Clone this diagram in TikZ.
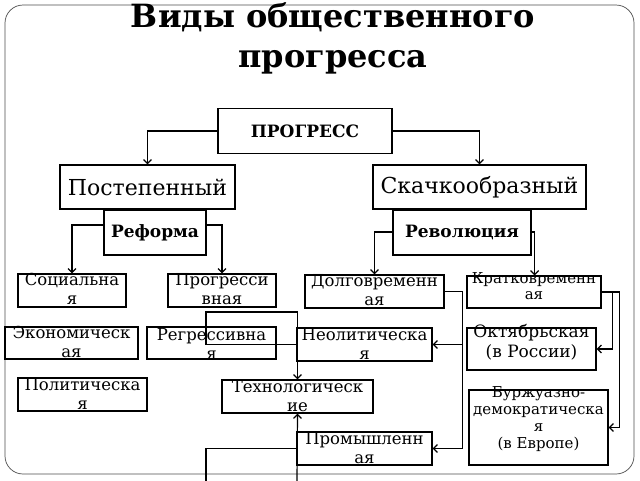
\documentclass[tikz,border=0pt]{standalone}
\usepackage{fontspec}
\setmainfont{DejaVu Serif}
\usetikzlibrary{arrows.meta}

\begin{document}
\begin{tikzpicture}[x=1pt, y=-1pt,
        % styles
        box/.style = {
                rectangle, draw=black, line width=1.2pt, inner sep=0pt
            },
        big/.style = {font=\fontsize{22}{26}\selectfont},
        head/.style = {font=\bfseries\fontsize{17}{20}\selectfont},
        lbl/.style = {
                anchor=north, align=center, inner sep=0pt,
                font=\fontsize{16.5}{19}\selectfont
            },
        arrow/.style = {
                line width=1.2pt, -{Straight Barb[length=4pt,width=8pt]}
            },
        line/.style = {line width=1.2pt}]

    \useasboundingbox (0,0) rectangle (640,480);
    \draw[line width=0.7pt, draw=black!70, rounded corners=18pt] (5,5) rectangle (634,474);
    \node[align=center, font=\bfseries\fontsize{32}{40}\selectfont] (title) at (333,38) {Виды общественного\\прогресса};

    % top levels
    \node[box, head, minimum width=174, minimum height=45] (progress) at (305,131) {ПРОГРЕСС};
    \node[box, big, minimum width=175, minimum height=44] (gradual) at (147.5,187) {Постепенный};
    \node[box, big, minimum width=213, minimum height=44] (leap) at (479.5,187) {Скачкообразный};
    \node[box, head, minimum width=102, minimum height=45] (reform) at (155,232.5) {Реформа};
    \node[box, head, minimum width=138, minimum height=45] (revol) at (462,232.5) {Революция};

    % lower boxes
    \node[box, minimum width=108, minimum height=33] (social) at (72,290.5) {};
    \node[box, minimum width=108, minimum height=33] (progr) at (222,290.5) {};
    \node[box, minimum width=139, minimum height=33] (long) at (374.5,291.5) {};
    \node[box, minimum width=134, minimum height=32] (short) at (534,292) {};
    \node[box, minimum width=133, minimum height=32] (econ) at (71.5,343) {};
    \node[box, minimum width=129, minimum height=32] (regr) at (211.5,343) {};
    \node[box, minimum width=135, minimum height=33] (neolit) at (364.5,344.5) {};
    \node[box, minimum width=129, minimum height=42] (october) at (531.5,349) {};
    \node[box, minimum width=129, minimum height=33] (polit) at (82.5,394.5) {};
    \node[box, minimum width=151, minimum height=33] (tech) at (297.5,396.5) {};
    \node[box, minimum width=139, minimum height=75] (bourg) at (538.5,427.5) {};
    \node[box, minimum width=135, minimum height=33] (industr) at (364.5,448.5) {};

    \node[lbl] at ([yshift=0]social.north) {Социальна\\я};
    \node[lbl] at ([yshift=0]progr.north) {Прогресси\\вная};
    \node[lbl] at ([yshift=0]long.north) {Долговременн\\ая};
    \node[lbl, font=\fontsize{15}{16}\selectfont] at ([yshift=3]short.north) {Кратковременн\\ая};
    \node[lbl] at ([yshift=0]econ.north) {Экономическ\\ая};
    \node[lbl] at ([yshift=-2]regr.north) {Регрессивна\\я};
    \node[lbl] at ([yshift=-1]neolit.north) {Неолитическа\\я};
    \node[lbl, font=\fontsize{17}{20}\selectfont] at ([yshift=3]october.north) {Октябрьская\\(в России)};
    \node[lbl] at ([yshift=-1]polit.north) {Политическа\\я};
    \node[lbl] at ([yshift=-1]tech.north) {Технологическ\\ие};
    \node[lbl, font=\fontsize{15}{17}\selectfont] at ([yshift=3]bourg.north) {Буржуазно-\\демократическа\\я\\(в Европе)};
    \node[lbl] at ([yshift=-1]industr.north) {Промышленн\\ая};

    % arrows
    \draw[arrow] (progress.west) -| (gradual.north);
    \draw[arrow] (progress.east) -| (leap.north);
    \draw[arrow] ([yshift=7.5]reform.west) -| (social.north);
    \draw[arrow] ([yshift=7.5]reform.east) -| (progr.north);
    \draw[arrow] ([yshift=0.5]revol.west) -| (long.north);
    \draw[arrow] ([yshift=0.5]revol.east) -| ([xshift=3]revol.east |- short.north);
    \draw[arrow] (long.east) -- ++(18,0) |- (neolit.east);
    \draw[arrow] (long.east) -- ++(18,0) |- (industr.east);
    \draw[arrow] (short.east) -- ++(18,0) |- (bourg.east);
    \draw[arrow] (short.east) -- ++(11,0) |- (october.east);
    \coordinate (c1) at (206,312);
    \coordinate (c2) at (206,482);
    \coordinate (c3) at (297,482);
    \draw[arrow] (neolit.west) -| (c1) -| (tech.north);
    \draw[line] (industr.west) -| (c2);
    \draw[arrow] (c3) -- (tech.south);

\end{tikzpicture}
\end{document}
